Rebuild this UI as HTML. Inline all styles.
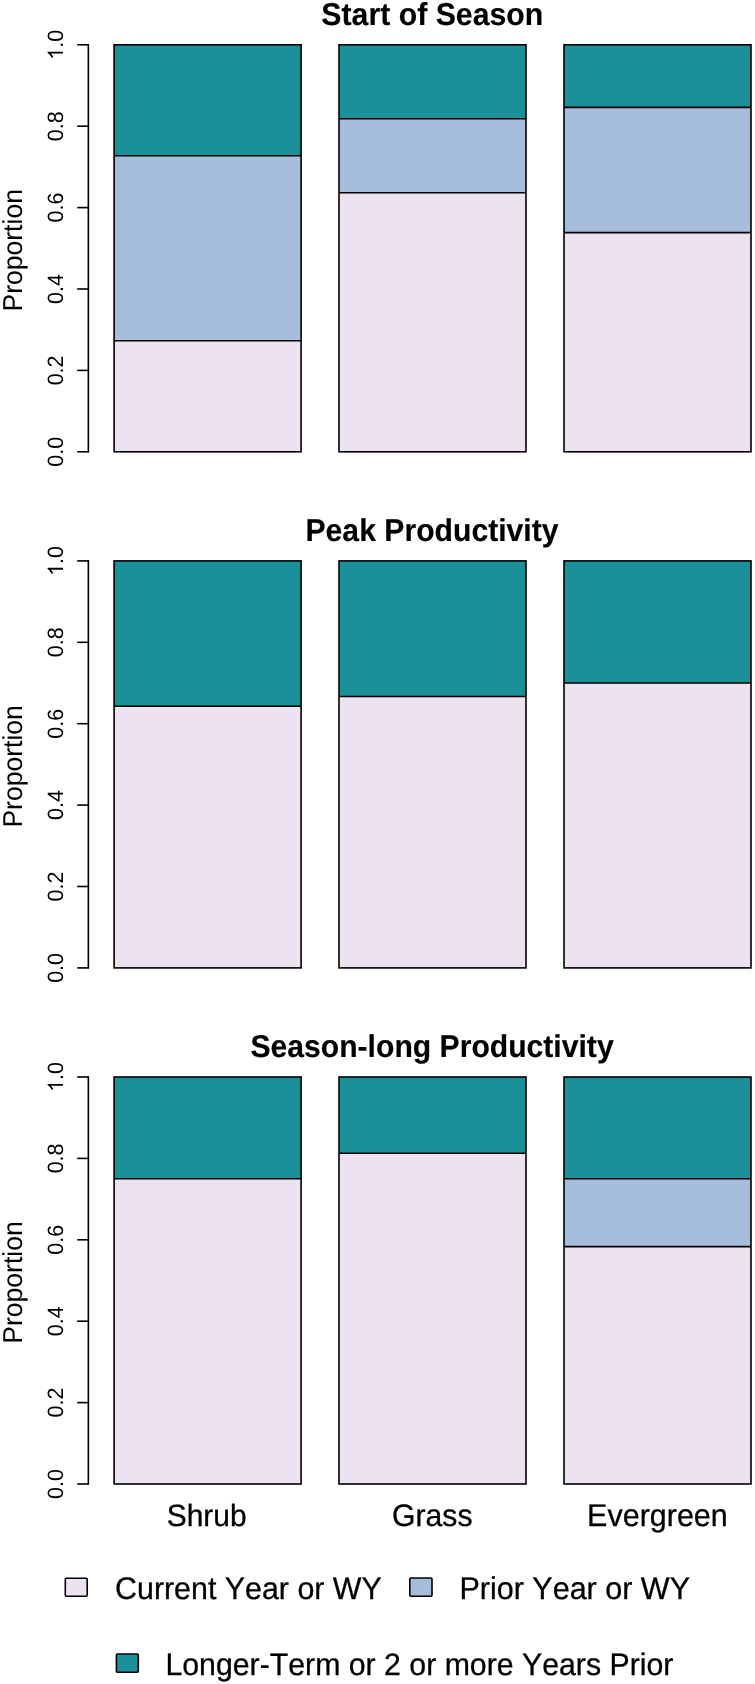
<!DOCTYPE html>
<html><head><meta charset="utf-8"><title>Proportion chart</title>
<style>
html,body{margin:0;padding:0;background:#fff;}
body{width:755px;height:1684px;overflow:hidden;}
svg text.h{stroke:#000;stroke-width:0.3px;}
svg text.h[font-weight=bold]{stroke-width:0.15px;}
svg{display:block;will-change:transform;font-family:"Liberation Sans", sans-serif;text-rendering:geometricPrecision;font-kerning:none;font-feature-settings:"kern" 0,"liga" 0;}
</style></head>
<body>
<svg width="755" height="1684" viewBox="0 0 755 1684" fill="#000">
<rect x="114.10" y="340.80" width="187.00" height="111.00" fill="#ece2f0"/>
<rect x="114.10" y="155.80" width="187.00" height="185.00" fill="#a6bddb"/>
<rect x="114.10" y="44.80" width="187.00" height="111.00" fill="#1c9099"/>
<rect x="114.10" y="44.80" width="187.00" height="407.00" fill="none" stroke="#000" stroke-width="1.6"/>
<line x1="114.10" y1="155.80" x2="301.10" y2="155.80" stroke="#000" stroke-width="1.6"/>
<line x1="114.10" y1="340.80" x2="301.10" y2="340.80" stroke="#000" stroke-width="1.6"/>
<rect x="339.00" y="192.80" width="187.00" height="259.00" fill="#ece2f0"/>
<rect x="339.00" y="118.80" width="187.00" height="74.00" fill="#a6bddb"/>
<rect x="339.00" y="44.80" width="187.00" height="74.00" fill="#1c9099"/>
<rect x="339.00" y="44.80" width="187.00" height="407.00" fill="none" stroke="#000" stroke-width="1.6"/>
<line x1="339.00" y1="118.80" x2="526.00" y2="118.80" stroke="#000" stroke-width="1.6"/>
<line x1="339.00" y1="192.80" x2="526.00" y2="192.80" stroke="#000" stroke-width="1.6"/>
<rect x="564.00" y="232.65" width="187.00" height="219.15" fill="#ece2f0"/>
<rect x="564.00" y="107.42" width="187.00" height="125.23" fill="#a6bddb"/>
<rect x="564.00" y="44.80" width="187.00" height="62.62" fill="#1c9099"/>
<rect x="564.00" y="44.80" width="187.00" height="407.00" fill="none" stroke="#000" stroke-width="1.6"/>
<line x1="564.00" y1="107.42" x2="751.00" y2="107.42" stroke="#000" stroke-width="1.6"/>
<line x1="564.00" y1="232.65" x2="751.00" y2="232.65" stroke="#000" stroke-width="1.6"/>
<line x1="88.35" y1="44.00" x2="88.35" y2="452.60" stroke="#000" stroke-width="1.6"/>
<line x1="77.2" y1="451.80" x2="88.35" y2="451.80" stroke="#000" stroke-width="1.6"/>
<text transform="translate(63.00,451.80) rotate(-90) scale(1,1.03)" x="-14.94" y="0" font-size="21.5">0.0</text>
<line x1="77.2" y1="370.40" x2="88.35" y2="370.40" stroke="#000" stroke-width="1.6"/>
<text transform="translate(63.00,370.40) rotate(-90) scale(1,1.03)" x="-14.94" y="0" font-size="21.5">0.2</text>
<line x1="77.2" y1="289.00" x2="88.35" y2="289.00" stroke="#000" stroke-width="1.6"/>
<text transform="translate(63.00,289.00) rotate(-90) scale(1,1.03)" x="-14.94" y="0" font-size="21.5">0.4</text>
<line x1="77.2" y1="207.60" x2="88.35" y2="207.60" stroke="#000" stroke-width="1.6"/>
<text transform="translate(63.00,207.60) rotate(-90) scale(1,1.03)" x="-14.94" y="0" font-size="21.5">0.6</text>
<line x1="77.2" y1="126.20" x2="88.35" y2="126.20" stroke="#000" stroke-width="1.6"/>
<text transform="translate(63.00,126.20) rotate(-90) scale(1,1.03)" x="-14.94" y="0" font-size="21.5">0.8</text>
<line x1="77.2" y1="44.80" x2="88.35" y2="44.80" stroke="#000" stroke-width="1.6"/>
<g transform="translate(63.00,44.80) rotate(-90)"><path transform="translate(-14.944,0) scale(0.01050,-0.01050)" d="M763,0L583,0L583,1147Q518,1085 412.5,1023Q307,961 223,930L223,1104Q374,1175 484.5,1272Q595,1369 651,1466L763,1466Z"/><text transform="scale(1,1.03)" x="-2.99" y="0" font-size="21.5">.0</text></g>
<text transform="translate(21.50,250.30) rotate(-90) scale(1,1.03)" x="-61.22" y="0" font-size="26.54">Proportion</text>
<rect x="114.10" y="706.26" width="187.00" height="261.64" fill="#ece2f0"/>
<rect x="114.10" y="560.90" width="187.00" height="145.36" fill="#1c9099"/>
<rect x="114.10" y="560.90" width="187.00" height="407.00" fill="none" stroke="#000" stroke-width="1.6"/>
<line x1="114.10" y1="706.26" x2="301.10" y2="706.26" stroke="#000" stroke-width="1.6"/>
<rect x="339.00" y="696.57" width="187.00" height="271.33" fill="#ece2f0"/>
<rect x="339.00" y="560.90" width="187.00" height="135.67" fill="#1c9099"/>
<rect x="339.00" y="560.90" width="187.00" height="407.00" fill="none" stroke="#000" stroke-width="1.6"/>
<line x1="339.00" y1="696.57" x2="526.00" y2="696.57" stroke="#000" stroke-width="1.6"/>
<rect x="564.00" y="683.00" width="187.00" height="284.90" fill="#ece2f0"/>
<rect x="564.00" y="560.90" width="187.00" height="122.10" fill="#1c9099"/>
<rect x="564.00" y="560.90" width="187.00" height="407.00" fill="none" stroke="#000" stroke-width="1.6"/>
<line x1="564.00" y1="683.00" x2="751.00" y2="683.00" stroke="#000" stroke-width="1.6"/>
<line x1="88.35" y1="560.10" x2="88.35" y2="968.70" stroke="#000" stroke-width="1.6"/>
<line x1="77.2" y1="967.90" x2="88.35" y2="967.90" stroke="#000" stroke-width="1.6"/>
<text transform="translate(63.00,967.90) rotate(-90) scale(1,1.03)" x="-14.94" y="0" font-size="21.5">0.0</text>
<line x1="77.2" y1="886.50" x2="88.35" y2="886.50" stroke="#000" stroke-width="1.6"/>
<text transform="translate(63.00,886.50) rotate(-90) scale(1,1.03)" x="-14.94" y="0" font-size="21.5">0.2</text>
<line x1="77.2" y1="805.10" x2="88.35" y2="805.10" stroke="#000" stroke-width="1.6"/>
<text transform="translate(63.00,805.10) rotate(-90) scale(1,1.03)" x="-14.94" y="0" font-size="21.5">0.4</text>
<line x1="77.2" y1="723.70" x2="88.35" y2="723.70" stroke="#000" stroke-width="1.6"/>
<text transform="translate(63.00,723.70) rotate(-90) scale(1,1.03)" x="-14.94" y="0" font-size="21.5">0.6</text>
<line x1="77.2" y1="642.30" x2="88.35" y2="642.30" stroke="#000" stroke-width="1.6"/>
<text transform="translate(63.00,642.30) rotate(-90) scale(1,1.03)" x="-14.94" y="0" font-size="21.5">0.8</text>
<line x1="77.2" y1="560.90" x2="88.35" y2="560.90" stroke="#000" stroke-width="1.6"/>
<g transform="translate(63.00,560.90) rotate(-90)"><path transform="translate(-14.944,0) scale(0.01050,-0.01050)" d="M763,0L583,0L583,1147Q518,1085 412.5,1023Q307,961 223,930L223,1104Q374,1175 484.5,1272Q595,1369 651,1466L763,1466Z"/><text transform="scale(1,1.03)" x="-2.99" y="0" font-size="21.5">.0</text></g>
<text transform="translate(21.50,766.40) rotate(-90) scale(1,1.03)" x="-61.22" y="0" font-size="26.54">Proportion</text>
<rect x="114.10" y="1178.75" width="187.00" height="305.25" fill="#ece2f0"/>
<rect x="114.10" y="1077.00" width="187.00" height="101.75" fill="#1c9099"/>
<rect x="114.10" y="1077.00" width="187.00" height="407.00" fill="none" stroke="#000" stroke-width="1.6"/>
<line x1="114.10" y1="1178.75" x2="301.10" y2="1178.75" stroke="#000" stroke-width="1.6"/>
<rect x="339.00" y="1153.31" width="187.00" height="330.69" fill="#ece2f0"/>
<rect x="339.00" y="1077.00" width="187.00" height="76.31" fill="#1c9099"/>
<rect x="339.00" y="1077.00" width="187.00" height="407.00" fill="none" stroke="#000" stroke-width="1.6"/>
<line x1="339.00" y1="1153.31" x2="526.00" y2="1153.31" stroke="#000" stroke-width="1.6"/>
<rect x="564.00" y="1246.58" width="187.00" height="237.42" fill="#ece2f0"/>
<rect x="564.00" y="1178.75" width="187.00" height="67.83" fill="#a6bddb"/>
<rect x="564.00" y="1077.00" width="187.00" height="101.75" fill="#1c9099"/>
<rect x="564.00" y="1077.00" width="187.00" height="407.00" fill="none" stroke="#000" stroke-width="1.6"/>
<line x1="564.00" y1="1178.75" x2="751.00" y2="1178.75" stroke="#000" stroke-width="1.6"/>
<line x1="564.00" y1="1246.58" x2="751.00" y2="1246.58" stroke="#000" stroke-width="1.6"/>
<line x1="88.35" y1="1076.20" x2="88.35" y2="1484.80" stroke="#000" stroke-width="1.6"/>
<line x1="77.2" y1="1484.00" x2="88.35" y2="1484.00" stroke="#000" stroke-width="1.6"/>
<text transform="translate(63.00,1484.00) rotate(-90) scale(1,1.03)" x="-14.94" y="0" font-size="21.5">0.0</text>
<line x1="77.2" y1="1402.60" x2="88.35" y2="1402.60" stroke="#000" stroke-width="1.6"/>
<text transform="translate(63.00,1402.60) rotate(-90) scale(1,1.03)" x="-14.94" y="0" font-size="21.5">0.2</text>
<line x1="77.2" y1="1321.20" x2="88.35" y2="1321.20" stroke="#000" stroke-width="1.6"/>
<text transform="translate(63.00,1321.20) rotate(-90) scale(1,1.03)" x="-14.94" y="0" font-size="21.5">0.4</text>
<line x1="77.2" y1="1239.80" x2="88.35" y2="1239.80" stroke="#000" stroke-width="1.6"/>
<text transform="translate(63.00,1239.80) rotate(-90) scale(1,1.03)" x="-14.94" y="0" font-size="21.5">0.6</text>
<line x1="77.2" y1="1158.40" x2="88.35" y2="1158.40" stroke="#000" stroke-width="1.6"/>
<text transform="translate(63.00,1158.40) rotate(-90) scale(1,1.03)" x="-14.94" y="0" font-size="21.5">0.8</text>
<line x1="77.2" y1="1077.00" x2="88.35" y2="1077.00" stroke="#000" stroke-width="1.6"/>
<g transform="translate(63.00,1077.00) rotate(-90)"><path transform="translate(-14.944,0) scale(0.01050,-0.01050)" d="M763,0L583,0L583,1147Q518,1085 412.5,1023Q307,961 223,930L223,1104Q374,1175 484.5,1272Q595,1369 651,1466L763,1466Z"/><text transform="scale(1,1.03)" x="-2.99" y="0" font-size="21.5">.0</text></g>
<text transform="translate(21.50,1282.50) rotate(-90) scale(1,1.03)" x="-61.22" y="0" font-size="26.54">Proportion</text>
<text class="h" transform="translate(321.33,24.80) scale(1,1.045)" font-size="30.27" font-weight="bold">Start of Season</text>
<text class="h" transform="translate(305.48,540.90) scale(1,1.045)" font-size="30.16" font-weight="bold">Peak Productivity</text>
<text class="h" transform="translate(250.43,1056.90) scale(1,1.045)" font-size="30.14" font-weight="bold">Season-long Productivity</text>
<text class="h" transform="translate(166.74,1526.00) scale(1,1.03)" font-size="29.95">Shrub</text>
<text class="h" transform="translate(392.08,1526.00) scale(1,1.03)" font-size="30.15">Grass</text>
<text class="h" transform="translate(587.10,1526.00) scale(1,1.03)" font-size="30.49">Evergreen</text>
<rect x="65.30" y="1578.20" width="21.90" height="18.00" fill="#ece2f0" stroke="#000" stroke-width="1.6" rx="1"/>
<rect x="409.80" y="1578.00" width="22.20" height="18.20" fill="#a6bddb" stroke="#000" stroke-width="1.6" rx="1"/>
<rect x="116.40" y="1654.00" width="21.90" height="18.30" fill="#1c9099" stroke="#000" stroke-width="1.6" rx="1"/>
<text class="h" transform="translate(115.06,1598.50) scale(1,1.03)" font-size="30.39">Current Year or WY</text>
<text class="h" transform="translate(459.40,1598.50) scale(1,1.03)" font-size="30.52">Prior Year or WY</text>
<text class="h" transform="translate(165.42,1674.80) scale(1,1.03)" font-size="30.28">Longer-Term or 2 or more Years Prior</text>
</svg>
</body></html>
